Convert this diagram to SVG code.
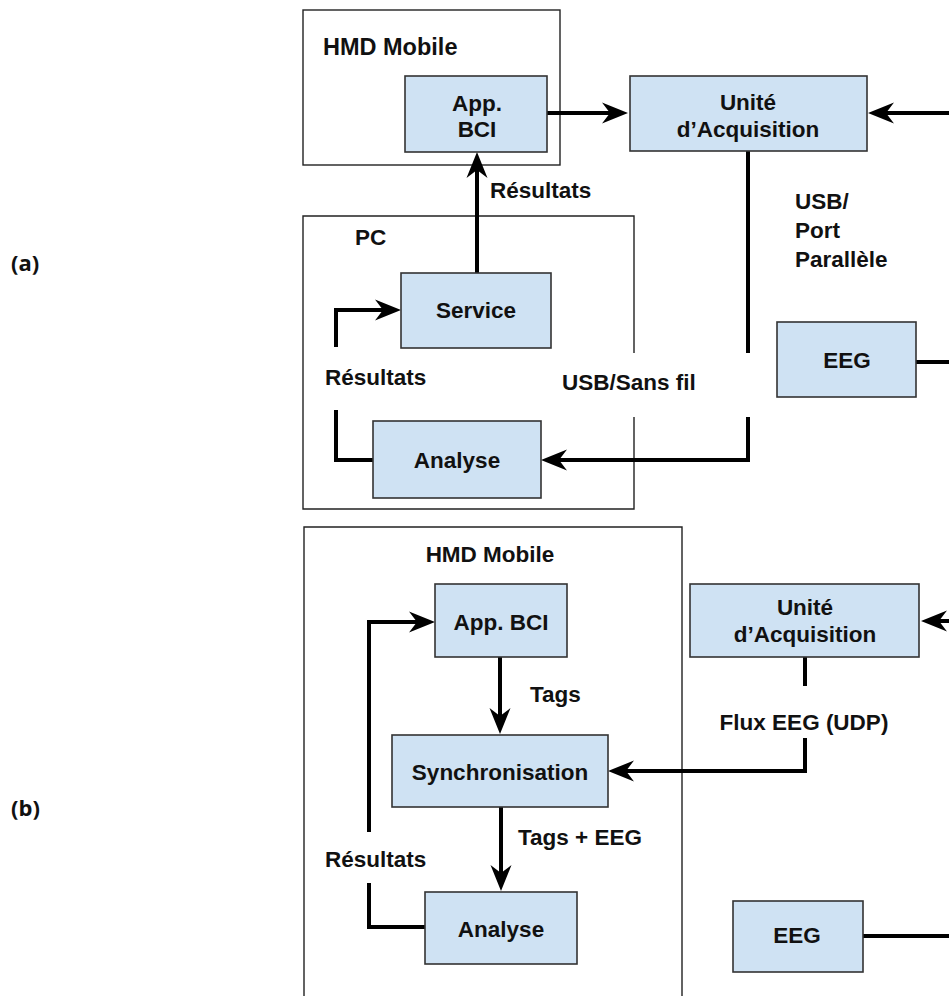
<svg xmlns="http://www.w3.org/2000/svg" width="949" height="996" viewBox="0 0 949 996">
<style>
.bg{fill:#ffffff}
.cont{fill:none;stroke:#222;stroke-width:1.4}
.node{fill:#cfe2f3;stroke:#333;stroke-width:1.6}
.t{font-family:"Liberation Sans",Arial,sans-serif;font-weight:bold;font-size:22.5px;fill:#111}
.c{text-anchor:middle}
.lab{font-family:"Open Sans","Liberation Sans",sans-serif;font-weight:bold;font-size:22px;fill:#111}
.ln{fill:none;stroke:#000;stroke-width:4}
.ar{fill:none;stroke:#000;stroke-width:4;marker-end:url(#ah)}
</style>
<defs>
<marker id="ah" markerUnits="userSpaceOnUse" viewBox="-28 -12 30 24" refX="-14" refY="0" markerWidth="30" markerHeight="24" orient="auto">
<path d="M0,0 L-26,-10.5 L-18,0 L-26,10.5 Z" fill="#000"/>
</marker>
</defs>
<rect class="bg" x="0" y="0" width="949" height="996"/>

<text class="lab" x="11" y="271">(a)</text>
<text class="lab" x="11" y="816">(b)</text>

<g id="a-hmd">
<rect class="cont" x="303" y="10" width="257" height="155"/>
<text class="t" x="323" y="55" style="font-size:23.5px">HMD Mobile</text>
</g>
<g id="a-pc">
<path class="cont" d="M634,353 V216 H303 V509 H634 V417"/>
<text class="t" x="355" y="245">PC</text>
</g>
<g id="b-hmd">
<path class="cont" d="M304,1000 V527 H682 V1000"/>
<text class="t c" x="490" y="562">HMD Mobile</text>
</g>

<g id="connectors">
<line class="ar" x1="547" y1="113" x2="614" y2="113"/>
<line class="ar" x1="949" y1="113" x2="882" y2="113"/>
<line class="ar" x1="477" y1="273" x2="477" y2="166"/>
<path class="ln" d="M373,460 H336 V410"/>
<path class="ar" d="M336,347 V310 H387"/>
<line class="ln" x1="748" y1="151" x2="748" y2="353"/>
<path class="ar" d="M748,417 V460 H555"/>
<line class="ln" x1="916" y1="362" x2="949" y2="362"/>

<line class="ar" x1="500" y1="657" x2="500" y2="720"/>
<line class="ar" x1="501" y1="807" x2="501" y2="877"/>
<path class="ln" d="M425,927 H369 V883"/>
<path class="ar" d="M369,832 V622 H421"/>
<line class="ar" x1="949" y1="621" x2="935" y2="621"/>
<line class="ln" x1="805" y1="657" x2="805" y2="686"/>
<path class="ar" d="M805,738 V771 H622"/>
<line class="ln" x1="863" y1="936" x2="949" y2="936"/>

<text class="t" x="490" y="198">Résultats</text>
<text class="t" x="325" y="385">Résultats</text>
<text class="t" x="562" y="390">USB/Sans fil</text>
<text class="t" x="795" y="209">USB/</text>
<text class="t" x="795" y="238">Port</text>
<text class="t" x="795" y="267">Parallèle</text>
<text class="t" x="530" y="702">Tags</text>
<text class="t" x="518" y="845">Tags + EEG</text>
<text class="t" x="325" y="867">Résultats</text>
<text class="t c" x="804" y="730">Flux EEG (UDP)</text>
</g>

<g id="a-app">
<rect class="node" x="405" y="76" width="142" height="76"/>
<text class="t c" x="477" y="111">App.</text>
<text class="t c" x="477" y="137">BCI</text>
</g>
<g id="a-unite">
<rect class="node" x="630" y="76" width="237" height="75"/>
<text class="t c" x="748" y="110">Unité</text>
<text class="t c" x="748" y="137">d’Acquisition</text>
</g>
<g id="a-service">
<rect class="node" x="401" y="273" width="150" height="75"/>
<text class="t c" x="476" y="318">Service</text>
</g>
<g id="a-analyse">
<rect class="node" x="373" y="421" width="168" height="77"/>
<text class="t c" x="457" y="468">Analyse</text>
</g>
<g id="a-eeg">
<rect class="node" x="777" y="322" width="139" height="75"/>
<text class="t c" x="847" y="368">EEG</text>
</g>

<g id="b-app">
<rect class="node" x="435" y="584" width="132" height="73"/>
<text class="t c" x="501" y="630">App. BCI</text>
</g>
<g id="b-sync">
<rect class="node" x="392" y="735" width="216" height="72"/>
<text class="t c" x="500" y="780">Synchronisation</text>
</g>
<g id="b-analyse">
<rect class="node" x="425" y="892" width="152" height="72"/>
<text class="t c" x="501" y="937">Analyse</text>
</g>
<g id="b-unite">
<rect class="node" x="690" y="584" width="229" height="73"/>
<text class="t c" x="805" y="615">Unité</text>
<text class="t c" x="805" y="642">d’Acquisition</text>
</g>
<g id="b-eeg">
<rect class="node" x="733" y="901" width="130" height="71"/>
<text class="t c" x="797" y="943">EEG</text>
</g>
</svg>
